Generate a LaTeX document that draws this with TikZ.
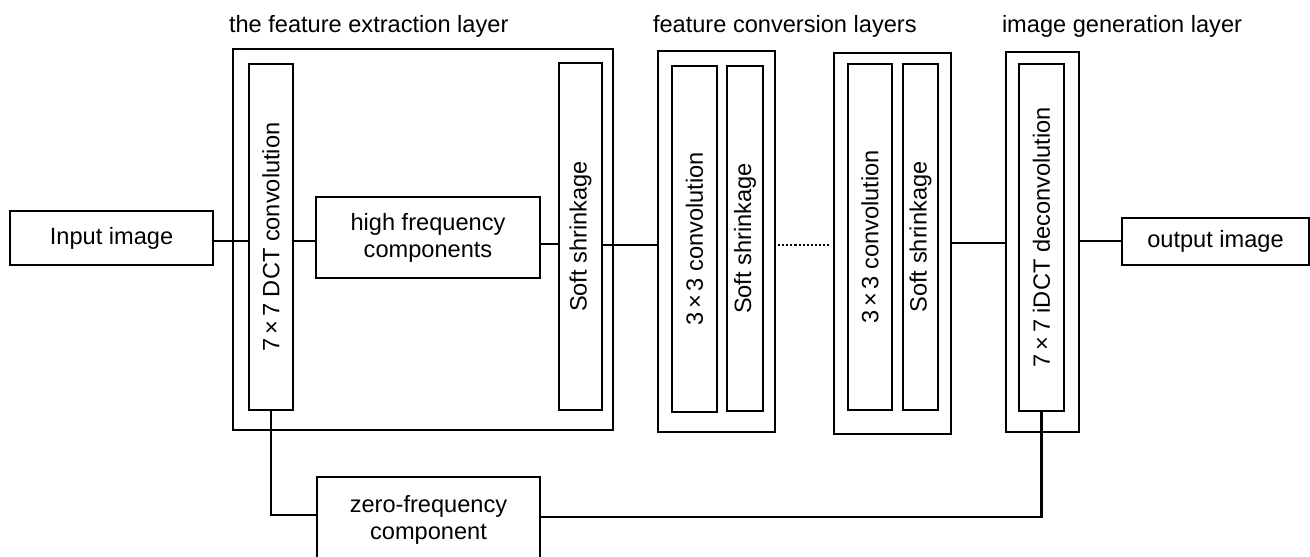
\documentclass[tikz,border=0pt]{standalone}
\usepackage{fontspec}
\setmainfont{Liberation Sans}
\begin{document}
\begin{tikzpicture}[x=1pt,y=-1pt,
  every node/.style={font=\fontsize{23.6}{27}\selectfont, inner sep=0pt, outer sep=0pt},
  box/.style={draw, line width=1.9pt, rectangle},
  outerbox/.style={draw, line width=2.7pt, rectangle},
  conn/.style={line width=2.1pt},
  dotconn/.style={line width=2.1pt, dotted},
  vlabel/.style={rotate=90}
]
\useasboundingbox (0,0) rectangle (1310,557);

% titles
\node[anchor=base west] (t1) at (229,32) {the feature extraction layer};
\node[anchor=base west] (t2) at (653,32) {feature conversion layers};
\node[anchor=base west] (t3) at (1002,32) {image generation layer};

% input / output
\node[box, minimum width=203, minimum height=54] (inp) at (111.5,238) {Input image};
\node[box, minimum width=187, minimum height=47] (out) at (1215.5,241.5) {output image};

% feature extraction layer
\node[outerbox, minimum width=380, minimum height=381] (ext) at (423,239.5) {};
\node[box, minimum width=44, minimum height=346] (dct) at (271,237) {};
\node[vlabel] (dctl) at (dct) {7\,×\,7 DCT convolution};
\node[box, minimum width=224, minimum height=81, align=center] (hf) at (428,237.5) {high frequency\\components};
\node[box, minimum width=43, minimum height=347] (ss1) at (580.5,236.5) {};
\node[vlabel] (ss1l) at (ss1) {Soft shrinkage};

% feature conversion layers
\node[outerbox, minimum width=117, minimum height=381] (fc1) at (716.5,241.5) {};
\node[box, minimum width=45, minimum height=346] (cv1) at (694.5,239) {};
\node[vlabel] (cv1l) at (cv1) {3\,×\,3 convolution};
\node[box, minimum width=36, minimum height=345] (ss2) at (745,238.5) {};
\node[vlabel] (ss2l) at (ss2) {Soft shrinkage};

\node[outerbox, minimum width=117, minimum height=381] (fc2) at (892.5,243.5) {};
\node[box, minimum width=44, minimum height=346] (cv2) at (870,237) {};
\node[vlabel] (cv2l) at (cv2) {3\,×\,3 convolution};
\node[box, minimum width=35, minimum height=346] (ss3) at (920.5,237) {};
\node[vlabel] (ss3l) at (ss3) {Soft shrinkage};

% image generation layer
\node[outerbox, minimum width=73, minimum height=380] (gen) at (1042.5,242) {};
\node[box, minimum width=45, minimum height=347] (idct) at (1041.5,237.5) {};
\node[vlabel] (idctl) at (idct) {7\,×\,7 iDCT deconvolution};

% zero-frequency component
\node[box, minimum width=223, minimum height=86, align=center] (zf) at (428.5,520) {zero-frequency\\component};

% levels
\coordinate (l1) at (0,241);
\coordinate (l2) at (0,244);
\coordinate (l3) at (0,245);
\coordinate (l4) at (0,243);
\coordinate (l5) at (0,515);
\coordinate (l6) at (0,517);

% connectors
\draw[conn] (inp.east |- l1) -- (dct.west |- l1);
\draw[conn] (dct.east |- l1) -- (hf.west |- l1);
\draw[conn] (hf.east |- l2) -- (ss1.west |- l2);
\draw[conn] (ss1.east |- l3) -- (fc1.west |- l3);
\draw[dotconn] ([xshift=3pt]fc1.east |- l3) -- ([xshift=-3pt]fc2.west |- l3);
\draw[conn] (fc2.east |- l4) -- (gen.west |- l4);
\draw[conn] (gen.east |- l1) -- (out.west |- l1);
\draw[conn] (dct.south) |- (zf.west |- l5);
\draw[conn] (zf.east |- l6) -| (idct.south);
\end{tikzpicture}
\end{document}
